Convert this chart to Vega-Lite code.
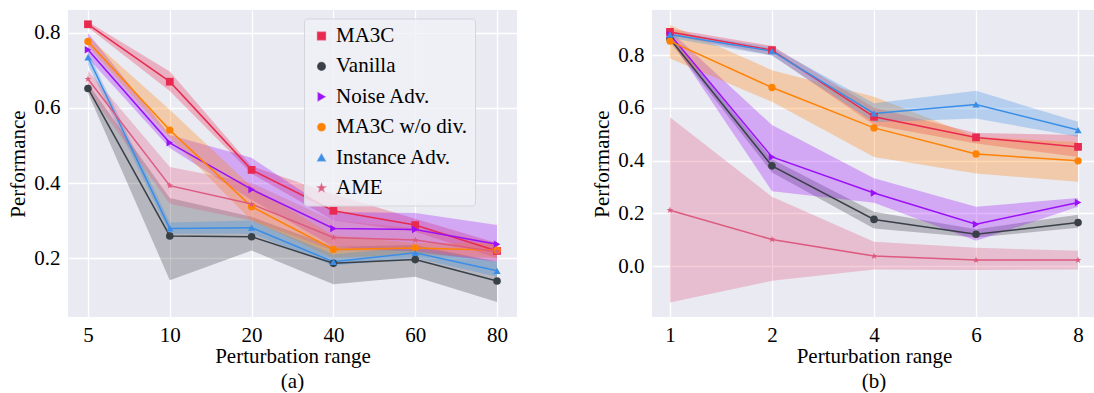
{
  "$schema": "https://vega.github.io/schema/vega-lite/v6.json",
  "background": "white",
  "padding": {"left": 7, "top": 10, "right": 0, "bottom": 0},
  "config": {
    "font": "Liberation Serif",
    "view": {"fill": "#EAEAF2", "stroke": null},
    "axis": {"domain": false, "ticks": false, "grid": true, "gridColor": "white", "gridWidth": 1.3, "labelFont": "Liberation Serif", "labelFontSize": 21, "labelColor": "black", "titleFont": "Liberation Serif", "titleFontSize": 21, "titleFontWeight": "normal", "titleColor": "black", "labelPadding": 8},
    "axisX": {"labelPadding": 7, "titlePadding": 0, "labelAngle": 0},
    "axisY": {"titlePadding": 5},
    "title": {"font": "Liberation Serif", "fontSize": 21, "fontWeight": "normal", "color": "black", "orient": "bottom", "offset": 5},
    "concat": {"spacing": 74}
  },
  "datasets": {
    "d": [
      {"p": "a", "m": "MA3C", "x": 5, "y": 0.823, "lo": 0.815, "hi": 0.830},
      {"p": "a", "m": "MA3C", "x": 10, "y": 0.670, "lo": 0.645, "hi": 0.697},
      {"p": "a", "m": "MA3C", "x": 20, "y": 0.435, "lo": 0.425, "hi": 0.445},
      {"p": "a", "m": "MA3C", "x": 40, "y": 0.326, "lo": 0.300, "hi": 0.370},
      {"p": "a", "m": "MA3C", "x": 60, "y": 0.288, "lo": 0.270, "hi": 0.305},
      {"p": "a", "m": "MA3C", "x": 80, "y": 0.219, "lo": 0.200, "hi": 0.240},
      {"p": "a", "m": "Vanilla", "x": 5, "y": 0.652, "lo": 0.640, "hi": 0.665},
      {"p": "a", "m": "Vanilla", "x": 10, "y": 0.259, "lo": 0.141, "hi": 0.360},
      {"p": "a", "m": "Vanilla", "x": 20, "y": 0.257, "lo": 0.220, "hi": 0.310},
      {"p": "a", "m": "Vanilla", "x": 40, "y": 0.186, "lo": 0.130, "hi": 0.230},
      {"p": "a", "m": "Vanilla", "x": 60, "y": 0.196, "lo": 0.150, "hi": 0.235},
      {"p": "a", "m": "Vanilla", "x": 80, "y": 0.139, "lo": 0.083, "hi": 0.190},
      {"p": "a", "m": "Noise Adv.", "x": 5, "y": 0.755, "lo": 0.733, "hi": 0.800},
      {"p": "a", "m": "Noise Adv.", "x": 10, "y": 0.507, "lo": 0.493, "hi": 0.528},
      {"p": "a", "m": "Noise Adv.", "x": 20, "y": 0.383, "lo": 0.355, "hi": 0.467},
      {"p": "a", "m": "Noise Adv.", "x": 40, "y": 0.279, "lo": 0.230, "hi": 0.323},
      {"p": "a", "m": "Noise Adv.", "x": 60, "y": 0.276, "lo": 0.217, "hi": 0.320},
      {"p": "a", "m": "Noise Adv.", "x": 80, "y": 0.237, "lo": 0.190, "hi": 0.288},
      {"p": "a", "m": "MA3C w/o div.", "x": 5, "y": 0.777, "lo": 0.765, "hi": 0.790},
      {"p": "a", "m": "MA3C w/o div.", "x": 10, "y": 0.541, "lo": 0.520, "hi": 0.595},
      {"p": "a", "m": "MA3C w/o div.", "x": 20, "y": 0.337, "lo": 0.300, "hi": 0.390},
      {"p": "a", "m": "MA3C w/o div.", "x": 40, "y": 0.223, "lo": 0.200, "hi": 0.260},
      {"p": "a", "m": "MA3C w/o div.", "x": 60, "y": 0.227, "lo": 0.210, "hi": 0.240},
      {"p": "a", "m": "MA3C w/o div.", "x": 80, "y": 0.221, "lo": 0.200, "hi": 0.240},
      {"p": "a", "m": "Instance Adv.", "x": 5, "y": 0.735, "lo": 0.715, "hi": 0.750},
      {"p": "a", "m": "Instance Adv.", "x": 10, "y": 0.279, "lo": 0.265, "hi": 0.295},
      {"p": "a", "m": "Instance Adv.", "x": 20, "y": 0.281, "lo": 0.265, "hi": 0.300},
      {"p": "a", "m": "Instance Adv.", "x": 40, "y": 0.190, "lo": 0.180, "hi": 0.210},
      {"p": "a", "m": "Instance Adv.", "x": 60, "y": 0.214, "lo": 0.200, "hi": 0.230},
      {"p": "a", "m": "Instance Adv.", "x": 80, "y": 0.166, "lo": 0.150, "hi": 0.190},
      {"p": "a", "m": "AME", "x": 5, "y": 0.677, "lo": 0.645, "hi": 0.700},
      {"p": "a", "m": "AME", "x": 10, "y": 0.393, "lo": 0.345, "hi": 0.443},
      {"p": "a", "m": "AME", "x": 20, "y": 0.344, "lo": 0.300, "hi": 0.400},
      {"p": "a", "m": "AME", "x": 40, "y": 0.255, "lo": 0.220, "hi": 0.300},
      {"p": "a", "m": "AME", "x": 60, "y": 0.248, "lo": 0.220, "hi": 0.280},
      {"p": "a", "m": "AME", "x": 80, "y": 0.217, "lo": 0.190, "hi": 0.240},
      {"p": "b", "m": "MA3C", "x": 1, "y": 0.888, "lo": 0.875, "hi": 0.900},
      {"p": "b", "m": "MA3C", "x": 2, "y": 0.819, "lo": 0.800, "hi": 0.835},
      {"p": "b", "m": "MA3C", "x": 4, "y": 0.566, "lo": 0.535, "hi": 0.600},
      {"p": "b", "m": "MA3C", "x": 6, "y": 0.488, "lo": 0.465, "hi": 0.505},
      {"p": "b", "m": "MA3C", "x": 8, "y": 0.452, "lo": 0.414, "hi": 0.497},
      {"p": "b", "m": "Vanilla", "x": 1, "y": 0.862, "lo": 0.850, "hi": 0.875},
      {"p": "b", "m": "Vanilla", "x": 2, "y": 0.380, "lo": 0.355, "hi": 0.405},
      {"p": "b", "m": "Vanilla", "x": 4, "y": 0.177, "lo": 0.143, "hi": 0.206},
      {"p": "b", "m": "Vanilla", "x": 6, "y": 0.121, "lo": 0.108, "hi": 0.140},
      {"p": "b", "m": "Vanilla", "x": 8, "y": 0.165, "lo": 0.145, "hi": 0.195},
      {"p": "b", "m": "Noise Adv.", "x": 1, "y": 0.878, "lo": 0.860, "hi": 0.892},
      {"p": "b", "m": "Noise Adv.", "x": 2, "y": 0.414, "lo": 0.284, "hi": 0.535},
      {"p": "b", "m": "Noise Adv.", "x": 4, "y": 0.277, "lo": 0.240, "hi": 0.333},
      {"p": "b", "m": "Noise Adv.", "x": 6, "y": 0.159, "lo": 0.096, "hi": 0.225},
      {"p": "b", "m": "Noise Adv.", "x": 8, "y": 0.241, "lo": 0.225, "hi": 0.258},
      {"p": "b", "m": "MA3C w/o div.", "x": 1, "y": 0.853, "lo": 0.787, "hi": 0.914},
      {"p": "b", "m": "MA3C w/o div.", "x": 2, "y": 0.677, "lo": 0.623, "hi": 0.743},
      {"p": "b", "m": "MA3C w/o div.", "x": 4, "y": 0.524, "lo": 0.414, "hi": 0.642},
      {"p": "b", "m": "MA3C w/o div.", "x": 6, "y": 0.425, "lo": 0.351, "hi": 0.490},
      {"p": "b", "m": "MA3C w/o div.", "x": 8, "y": 0.399, "lo": 0.320, "hi": 0.470},
      {"p": "b", "m": "Instance Adv.", "x": 1, "y": 0.878, "lo": 0.865, "hi": 0.890},
      {"p": "b", "m": "Instance Adv.", "x": 2, "y": 0.815, "lo": 0.798, "hi": 0.830},
      {"p": "b", "m": "Instance Adv.", "x": 4, "y": 0.579, "lo": 0.545, "hi": 0.617},
      {"p": "b", "m": "Instance Adv.", "x": 6, "y": 0.613, "lo": 0.560, "hi": 0.665},
      {"p": "b", "m": "Instance Adv.", "x": 8, "y": 0.516, "lo": 0.490, "hi": 0.547},
      {"p": "b", "m": "AME", "x": 1, "y": 0.212, "lo": -0.138, "hi": 0.564},
      {"p": "b", "m": "AME", "x": 2, "y": 0.101, "lo": -0.056, "hi": 0.263},
      {"p": "b", "m": "AME", "x": 4, "y": 0.038, "lo": -0.013, "hi": 0.092},
      {"p": "b", "m": "AME", "x": 6, "y": 0.023, "lo": -0.015, "hi": 0.070},
      {"p": "b", "m": "AME", "x": 8, "y": 0.023, "lo": -0.013, "hi": 0.058}
    ]
  },
  "resolve": {"scale": {"color": "independent", "shape": "independent", "size": "independent"}, "legend": {"color": "independent", "shape": "independent", "size": "independent"}},
  "hconcat": [
    {
      "width": 449,
      "height": 307,
      "title": {"text": "(a)"},
      "data": {"name": "d"},
      "transform": [{"filter": "datum.p == 'a'"}],
      "encoding": {
        "x": {"field": "x", "type": "ordinal", "scale": {"type": "point", "padding": 0.244, "domain": [5, 10, 20, 40, 60, 80]}, "axis": {"title": "Perturbation range"}},
        "color": {
          "field": "m", "type": "nominal",
          "scale": {"domain": ["MA3C", "Vanilla", "Noise Adv.", "MA3C w/o div.", "Instance Adv.", "AME"], "range": ["#E82A50", "#3A4047", "#9B10F8", "#FF8205", "#3A8EE6", "#DD5A80"]},
          "legend": {
            "orient": "none", "legendX": 236, "legendY": 8.5, "title": null,
            "symbolSize": 1764, "clipHeight": 21, "rowPadding": 8.4, "labelOffset": 4,
            "labelFont": "Liberation Serif", "labelFontSize": 21, "labelColor": "black",
            "padding": 7, "fillColor": "rgba(240,240,246,0.8)", "strokeColor": "#D5D5DD", "cornerRadius": 3,
            "symbolStrokeWidth": 1.5,
            "encode": {
              "symbols": {
                "update": {
                  "shape": {"signal": "datum.value === 'MA3C' ? 'M-1,0H1M-0.19,-0.19H0.19V0.19H-0.19Z' : datum.value === 'Vanilla' ? 'M-1,0H1M-0.167,0A0.167,0.167,0,1,0,0.167,0A0.167,0.167,0,1,0,-0.167,0Z' : datum.value === 'Noise Adv.' ? 'M-1,0H1M-0.17,-0.2L0.23,0L-0.17,0.2Z' : datum.value === 'MA3C w/o div.' ? 'M-1,0H1M-0.19,0A0.19,0.19,0,1,0,0.19,0A0.19,0.19,0,1,0,-0.19,0Z' : datum.value === 'Instance Adv.' ? 'M-1,0H1M0,-0.22L0.2,0.16L-0.2,0.16Z' : 'M-1,0H1M0,-0.17L0.041,-0.057L0.162,-0.053L0.067,0.022L0.1,0.138L0,0.07L-0.1,0.138L-0.067,0.022L-0.162,-0.053L-0.041,-0.057Z'"},
                  "fill": {"signal": "datum.value === 'MA3C' ? '#E82A50' : datum.value === 'Vanilla' ? '#3A4047' : datum.value === 'Noise Adv.' ? '#9B10F8' : datum.value === 'MA3C w/o div.' ? '#FF8205' : datum.value === 'Instance Adv.' ? '#3A8EE6' : '#DD5A80'"},
                  "stroke": {"signal": "datum.value === 'MA3C' ? '#E82A50' : datum.value === 'Vanilla' ? '#3A4047' : datum.value === 'Noise Adv.' ? '#9B10F8' : datum.value === 'MA3C w/o div.' ? '#FF8205' : datum.value === 'Instance Adv.' ? '#3A8EE6' : '#DD5A80'"},
                  "opacity": {"value": 1},
                  "fillOpacity": {"value": 1},
                  "strokeOpacity": {"value": 0.75},
                  "strokeWidth": {"value": 1.5}
                }
              }
            }
          }
        }
      },
      "layer": [
        {
          "mark": {"type": "area", "opacity": 0.3},
          "encoding": {
            "y": {"field": "lo", "type": "quantitative", "scale": {"domain": [0.043, 0.861], "nice": false, "zero": false}, "axis": {"title": "Performance", "values": [0.2, 0.4, 0.6, 0.8], "format": ".1f"}},
            "y2": {"field": "hi"}
          }
        },
        {
          "mark": {"type": "line", "strokeWidth": 1.5},
          "encoding": {
            "y": {"field": "y", "type": "quantitative", "axis": {"title": "Performance", "values": [0.2, 0.4, 0.6, 0.8], "format": ".1f"}}
          }
        },
        {
          "mark": {"type": "point", "filled": true, "opacity": 1},
          "encoding": {
            "y": {"field": "y", "type": "quantitative", "axis": {"title": "Performance", "values": [0.2, 0.4, 0.6, 0.8], "format": ".1f"}},
            "shape": {"field": "m", "type": "nominal", "scale": {"domain": ["MA3C", "Vanilla", "Noise Adv.", "MA3C w/o div.", "Instance Adv.", "AME"], "range": ["square", "circle", "triangle-right", "circle", "triangle-up", "M0,-1L0.235,-0.324L0.951,-0.309L0.38,0.124L0.588,0.809L0,0.4L-0.588,0.809L-0.38,0.124L-0.951,-0.309L-0.235,-0.324Z"]}, "legend": null},
            "size": {"field": "m", "type": "nominal", "scale": {"domain": ["MA3C", "Vanilla", "Noise Adv.", "MA3C w/o div.", "Instance Adv.", "AME"], "range": [60, 50, 80, 60, 80, 60]}, "legend": null}
          }
        }
      ]
    },
    {
      "width": 444,
      "height": 307,
      "title": {"text": "(b)"},
      "data": {"name": "d"},
      "transform": [{"filter": "datum.p == 'b'"}],
      "encoding": {
        "x": {"field": "x", "type": "ordinal", "scale": {"type": "point", "padding": 0.176, "domain": [1, 2, 4, 6, 8]}, "axis": {"title": "Perturbation range"}},
        "color": {
          "field": "m", "type": "nominal",
          "scale": {"domain": ["MA3C", "Vanilla", "Noise Adv.", "MA3C w/o div.", "Instance Adv.", "AME"], "range": ["#E82A50", "#3A4047", "#9B10F8", "#FF8205", "#3A8EE6", "#DD5A80"]},
          "legend": null
        }
      },
      "layer": [
        {
          "mark": {"type": "area", "opacity": 0.3},
          "encoding": {
            "y": {"field": "lo", "type": "quantitative", "scale": {"domain": [-0.193, 0.971], "nice": false, "zero": false}, "axis": {"title": "Performance", "values": [0.0, 0.2, 0.4, 0.6, 0.8], "format": ".1f"}},
            "y2": {"field": "hi"}
          }
        },
        {
          "mark": {"type": "line", "strokeWidth": 1.5},
          "encoding": {
            "y": {"field": "y", "type": "quantitative", "axis": {"title": "Performance", "values": [0.0, 0.2, 0.4, 0.6, 0.8], "format": ".1f"}}
          }
        },
        {
          "mark": {"type": "point", "filled": true, "opacity": 1},
          "encoding": {
            "y": {"field": "y", "type": "quantitative", "axis": {"title": "Performance", "values": [0.0, 0.2, 0.4, 0.6, 0.8], "format": ".1f"}},
            "shape": {"field": "m", "type": "nominal", "scale": {"domain": ["MA3C", "Vanilla", "Noise Adv.", "MA3C w/o div.", "Instance Adv.", "AME"], "range": ["square", "circle", "triangle-right", "circle", "triangle-up", "M0,-1L0.235,-0.324L0.951,-0.309L0.38,0.124L0.588,0.809L0,0.4L-0.588,0.809L-0.38,0.124L-0.951,-0.309L-0.235,-0.324Z"]}, "legend": null},
            "size": {"field": "m", "type": "nominal", "scale": {"domain": ["MA3C", "Vanilla", "Noise Adv.", "MA3C w/o div.", "Instance Adv.", "AME"], "range": [60, 50, 80, 60, 80, 60]}, "legend": null}
          }
        }
      ]
    }
  ]
}
